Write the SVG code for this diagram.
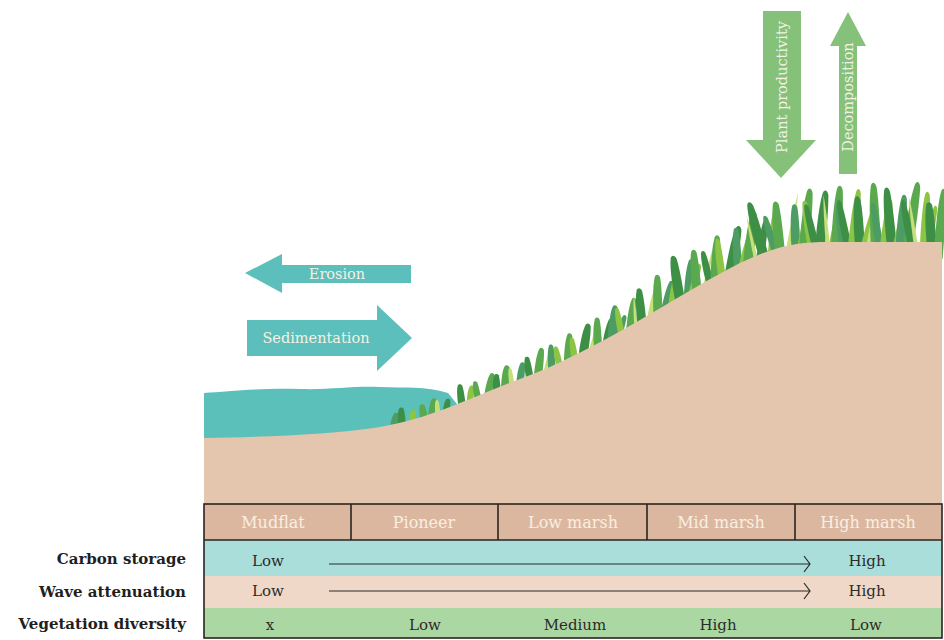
<svg xmlns="http://www.w3.org/2000/svg" width="944" height="640" viewBox="0 0 944 640">
  <style>
    .arrowtxt { font-family: "DejaVu Serif", "Liberation Serif", serif; font-size: 14.5px; fill: #f4f1e4; text-anchor: middle; dominant-baseline: central; }
    .hdr { font-family: "DejaVu Serif", "Liberation Serif", serif; font-size: 16px; fill: #f8efe4; text-anchor: middle; dominant-baseline: central; }
    .cell { font-family: "DejaVu Serif", "Liberation Serif", serif; font-size: 15px; fill: #2b2b2b; text-anchor: middle; dominant-baseline: central; }
    .rowlbl { font-family: "DejaVu Serif", "Liberation Serif", serif; font-size: 15px; font-weight: bold; fill: #1f1f1f; text-anchor: end; dominant-baseline: central; }
    .teal { fill: #5cbfbb; }
    .leaf { fill: #86c17a; }
    .g1 { fill: #3e8f46; }
    .g2 { fill: #5aa94f; }
    .g3 { fill: #8cc443; }
    .g4 { fill: #c5df79; }
    .g5 { fill: #4c9c63; }
    .grid { fill: none; stroke: #2a2420; stroke-width: 1.6; }
    .trend { fill: none; stroke: #2a2a2a; stroke-width: 1.2; }
  </style>
  <defs>
    <!-- single grass blade with a rounded tip, base at origin, 30 units tall -->
    <path id="blade" d="M-4,6 C-4.4,-8 -4,-22 -1.6,-28.5 C-0.6,-30.6 2.2,-30.4 3.2,-27.5 C4.4,-20 4.2,-6 4,6 Z"/>
    <!-- thin light blade -->
    <path id="stalk" d="M-1.6,6 C-1.8,-8 -1.2,-22 0,-30 C1.2,-22 1.8,-8 1.6,6 Z"/>
  </defs>

  <rect width="944" height="640" fill="#ffffff"/>

  <!-- water -->
  <path id="water" d="M204,393 C230,391 260,388 300,389 C330,390 350,386 380,387 C405,388 425,386 448,393 L470,420 L204,450 Z" fill="#5bbfba"/>

  <!-- grass along the marsh slope -->
  <g id="grass">
    <use href="#blade" class="g5" transform="translate(394,426) rotate(10) scale(0.9,0.45)"/>
    <use href="#blade" class="g1" transform="translate(402,424) rotate(-5) scale(0.9,0.55)"/>
    <use href="#blade" class="g3" transform="translate(412,422) rotate(6) scale(0.8,0.4)"/>
    <use href="#blade" class="g2" transform="translate(424,419) rotate(-10) scale(0.9,0.5)"/>
    <use href="#blade" class="g2" transform="translate(432,416) rotate(5) scale(0.9,0.6)"/>
    <use href="#blade" class="g4" transform="translate(438,415) rotate(-6) scale(0.6,0.5)"/>
    <use href="#blade" class="g1" transform="translate(446,412) rotate(8) scale(0.8,0.45)"/>
    <use href="#blade" class="g1" transform="translate(462,405) rotate(-8) scale(0.9,0.7)"/>
    <use href="#blade" class="g3" transform="translate(470,402) rotate(4) scale(0.8,0.55)"/>
    <use href="#blade" class="g2" transform="translate(478,399) rotate(-12) scale(0.8,0.6)"/>
    <use href="#blade" class="g2" transform="translate(488,395) rotate(10) scale(0.9,0.75)"/>
    <use href="#blade" class="g1" transform="translate(497,392) rotate(-4) scale(0.9,0.6)"/>
    <use href="#blade" class="g2" transform="translate(505,389) rotate(3) scale(1,0.8)"/>
    <use href="#blade" class="g4" transform="translate(512,386) rotate(-8) scale(0.6,0.6)"/>
    <use href="#blade" class="g5" transform="translate(520,383) rotate(6) scale(0.9,0.7)"/>
    <use href="#blade" class="g1" transform="translate(530,379) rotate(-10) scale(0.9,0.75)"/>
    <use href="#blade" class="g2" transform="translate(538,376) rotate(6) scale(1,0.95)"/>
    <use href="#stalk" class="g4" transform="translate(545,373) rotate(12) scale(1,0.85)"/>
    <use href="#blade" class="g5" transform="translate(552,370) rotate(-4) scale(0.9,0.85)"/>
    <use href="#blade" class="g3" transform="translate(560,367) rotate(-14) scale(0.8,0.7)"/>
    <use href="#blade" class="g2" transform="translate(568,363) rotate(2) scale(1,1)"/>
    <use href="#blade" class="g3" transform="translate(575,360) rotate(-10) scale(0.8,0.75)"/>
    <use href="#blade" class="g1" transform="translate(583,356) rotate(8) scale(1.1,1.1)"/>
    <use href="#stalk" class="g4" transform="translate(590,353) rotate(14) scale(1,0.95)"/>
    <use href="#blade" class="g2" transform="translate(598,349) rotate(-3) scale(1,1.05)"/>
    <use href="#blade" class="g1" transform="translate(606,345) rotate(10) scale(0.9,0.9)"/>
    <use href="#blade" class="g5" transform="translate(612,341) rotate(4) scale(1.1,1.2)"/>
    <use href="#blade" class="g5" transform="translate(618,338) rotate(16) scale(0.8,0.8)"/>
    <use href="#blade" class="g3" transform="translate(622,336) rotate(-12) scale(0.8,0.95)"/>
    <use href="#blade" class="g2" transform="translate(630,332) rotate(6) scale(1,1.15)"/>
    <use href="#stalk" class="g4" transform="translate(636,328) rotate(-4) scale(1,1.1)"/>
    <use href="#blade" class="g1" transform="translate(642,324) rotate(-6) scale(1.1,1.2)"/>
    <use href="#blade" class="g4" transform="translate(650,319) rotate(10) scale(0.7,1)"/>
    <use href="#blade" class="g2" transform="translate(658,315) rotate(-2) scale(1.1,1.35)"/>
    <use href="#blade" class="g5" transform="translate(665,310) rotate(12) scale(0.9,1)"/>
    <use href="#blade" class="g3" transform="translate(672,305) rotate(8) scale(0.9,1.1)"/>
    <use href="#blade" class="g1" transform="translate(680,300) rotate(-10) scale(1.2,1.5)"/>
    <use href="#blade" class="g5" transform="translate(688,295) rotate(4) scale(1,1.2)"/>
    <use href="#blade" class="g3" transform="translate(692,293) rotate(14) scale(0.8,1)"/>
    <use href="#blade" class="g2" transform="translate(697,290) rotate(-6) scale(1.1,1.35)"/>
    <use href="#stalk" class="g4" transform="translate(705,286) rotate(12) scale(1.1,1.3)"/>
    <use href="#blade" class="g1" transform="translate(710,283) rotate(-14) scale(0.9,1.1)"/>
    <use href="#blade" class="g2" transform="translate(715,280) rotate(2) scale(1.1,1.5)"/>
    <use href="#blade" class="g3" transform="translate(722,277) rotate(-8) scale(0.9,1.3)"/>
    <use href="#blade" class="g1" transform="translate(730,273) rotate(10) scale(1.2,1.6)"/>
    <use href="#blade" class="g5" transform="translate(738,268) rotate(-4) scale(1,1.35)"/>
    <use href="#blade" class="g3" transform="translate(742,266) rotate(14) scale(0.8,1.3)"/>
    <use href="#blade" class="g2" transform="translate(748,263) rotate(6) scale(1.2,1.75)"/>
    <use href="#stalk" class="g4" transform="translate(756,260) rotate(-12) scale(1.1,1.5)"/>
    <use href="#blade" class="g1" transform="translate(760,259) rotate(8) scale(0.9,1.4)"/>
    <use href="#blade" class="g1" transform="translate(764,257) rotate(-16) scale(1.2,1.9)"/>
    <use href="#blade" class="g3" transform="translate(772,255) rotate(4) scale(1,1.55)"/>
    <use href="#blade" class="g5" transform="translate(776,253) rotate(-18) scale(0.9,1.3)"/>
    <use href="#blade" class="g2" transform="translate(780,252) rotate(-6) scale(1.2,1.7)"/>
    <use href="#stalk" class="g4" transform="translate(788,250) rotate(10) scale(1.2,1.95)"/>
    <use href="#blade" class="g5" transform="translate(796,249) rotate(-3) scale(1.1,1.5)"/>
    <use href="#blade" class="g3" transform="translate(800,249) rotate(12) scale(0.8,1.4)"/>
    <use href="#blade" class="g2" transform="translate(804,248) rotate(5) scale(1.2,2)"/>
    <use href="#blade" class="g3" transform="translate(812,248) rotate(-10) scale(1,1.6)"/>
    <use href="#blade" class="g1" transform="translate(816,248) rotate(-14) scale(0.9,1.5)"/>
    <use href="#blade" class="g1" transform="translate(820,247) rotate(5) scale(1.2,1.9)"/>
    <use href="#stalk" class="g4" transform="translate(828,247) rotate(-5) scale(1.2,1.75)"/>
    <use href="#blade" class="g3" transform="translate(832,247) rotate(10) scale(0.8,1.3)"/>
    <use href="#blade" class="g2" transform="translate(836,247) rotate(3) scale(1.2,2.05)"/>
    <use href="#blade" class="g5" transform="translate(844,247) rotate(-8) scale(1.1,1.55)"/>
    <use href="#blade" class="g1" transform="translate(848,247) rotate(-12) scale(0.9,1.6)"/>
    <use href="#blade" class="g3" transform="translate(852,247) rotate(6) scale(1,1.95)"/>
    <use href="#blade" class="g1" transform="translate(860,247) rotate(-4) scale(1.2,1.7)"/>
    <use href="#blade" class="g3" transform="translate(864,247) rotate(14) scale(0.8,1.4)"/>
    <use href="#stalk" class="g4" transform="translate(868,247) rotate(10) scale(1.2,1.8)"/>
    <use href="#blade" class="g2" transform="translate(876,247) rotate(-3) scale(1.2,2.15)"/>
    <use href="#blade" class="g5" transform="translate(880,247) rotate(-10) scale(0.9,1.5)"/>
    <use href="#blade" class="g3" transform="translate(884,247) rotate(7) scale(1,1.6)"/>
    <use href="#blade" class="g1" transform="translate(892,247) rotate(-6) scale(1.2,2)"/>
    <use href="#blade" class="g3" transform="translate(896,247) rotate(12) scale(0.8,1.3)"/>
    <use href="#blade" class="g5" transform="translate(900,247) rotate(4) scale(1.1,1.75)"/>
    <use href="#blade" class="g2" transform="translate(908,247) rotate(8) scale(1.2,2.2)"/>
    <use href="#blade" class="g1" transform="translate(912,247) rotate(-12) scale(0.9,1.6)"/>
    <use href="#stalk" class="g4" transform="translate(916,247) rotate(-8) scale(1.2,1.7)"/>
    <use href="#blade" class="g3" transform="translate(924,247) rotate(3) scale(1,1.85)"/>
    <use href="#blade" class="g3" transform="translate(928,247) rotate(10) scale(0.8,1.4)"/>
    <use href="#blade" class="g1" transform="translate(932,247) rotate(-5) scale(1.2,1.5)"/>
    <use href="#blade" class="g2" transform="translate(939,247) rotate(4) scale(1.1,1.95)"/>
  </g>

  <!-- sediment / land profile -->
  <path id="land" d="M204,438 C260,437 330,435 380,427 C430,419 470,398 520,379 C600,350 680,293 740,263 C770,249 790,243 820,242 L942,242 L942,504 L204,504 Z" fill="#e4c5ae"/>

  <!-- process arrows -->
  <g id="erosion">
    <polygon class="teal" points="245,273 282,254 282,265 411,265 411,283 282,283 282,293"/>
    <text class="arrowtxt" x="337" y="274">Erosion</text>
  </g>
  <g id="sedimentation">
    <polygon class="teal" points="247,320 377,320 377,305 412,338 377,371 377,356 247,356"/>
    <text class="arrowtxt" x="316" y="338">Sedimentation</text>
  </g>
  <g id="plant-productivity">
    <polygon class="leaf" points="763,11 801,11 801,140 816,140 781,178 746,140 763,140"/>
    <text class="arrowtxt" transform="translate(782,87) rotate(-90)">Plant productivity</text>
  </g>
  <g id="decomposition">
    <polygon class="leaf" points="848,12 866,46 857,46 857,174 839,174 839,46 830,46"/>
    <text class="arrowtxt" transform="translate(848,97) rotate(-90)">Decomposition</text>
  </g>

  <!-- zone table -->
  <g id="table">
    <rect x="204" y="504" width="738" height="36" fill="#dcb79f"/>
    <rect x="204" y="540" width="738" height="36" fill="#a9dedb"/>
    <rect x="204" y="576" width="738" height="32" fill="#efd8c8"/>
    <rect x="204" y="608" width="738" height="30" fill="#abd7a3"/>
    <rect class="grid" x="204" y="504" width="738" height="134"/>
    <line class="grid" x1="204" y1="540" x2="942" y2="540"/>
    <line class="grid" x1="351" y1="504" x2="351" y2="540"/>
    <line class="grid" x1="498" y1="504" x2="498" y2="540"/>
    <line class="grid" x1="647" y1="504" x2="647" y2="540"/>
    <line class="grid" x1="795" y1="504" x2="795" y2="540"/>
  </g>
  <g id="zone-headers">
    <text class="hdr" x="273" y="522">Mudflat</text>
    <text class="hdr" x="424" y="522">Pioneer</text>
    <text class="hdr" x="573" y="522">Low marsh</text>
    <text class="hdr" x="721" y="522">Mid marsh</text>
    <text class="hdr" x="868" y="522">High marsh</text>
  </g>

  <!-- row labels -->
  <g id="row-labels">
    <text class="rowlbl" x="186" y="559">Carbon storage</text>
    <text class="rowlbl" x="186" y="592">Wave attenuation</text>
    <text class="rowlbl" x="186" y="624">Vegetation diversity</text>
  </g>

  <!-- row values and trends -->
  <g id="carbon-row">
    <text class="cell" x="268" y="561">Low</text>
    <text class="cell" x="867" y="561">High</text>
  </g>
  <g id="wave-row">
    <text class="cell" x="268" y="591">Low</text>
    <text class="cell" x="867" y="591">High</text>
  </g>
  <g id="vegetation-row">
    <text class="cell" x="270" y="625">x</text>
    <text class="cell" x="425" y="625">Low</text>
    <text class="cell" x="575" y="625">Medium</text>
    <text class="cell" x="718" y="625">High</text>
    <text class="cell" x="866" y="625">Low</text>
  </g>
  <g id="connectors">
    <path class="trend" d="M329,564 L810,564 M804,556 L810,564 L804,572"/>
    <path class="trend" d="M329,591 L810,591 M804,583 L810,591 L804,599"/>
  </g>
</svg>
